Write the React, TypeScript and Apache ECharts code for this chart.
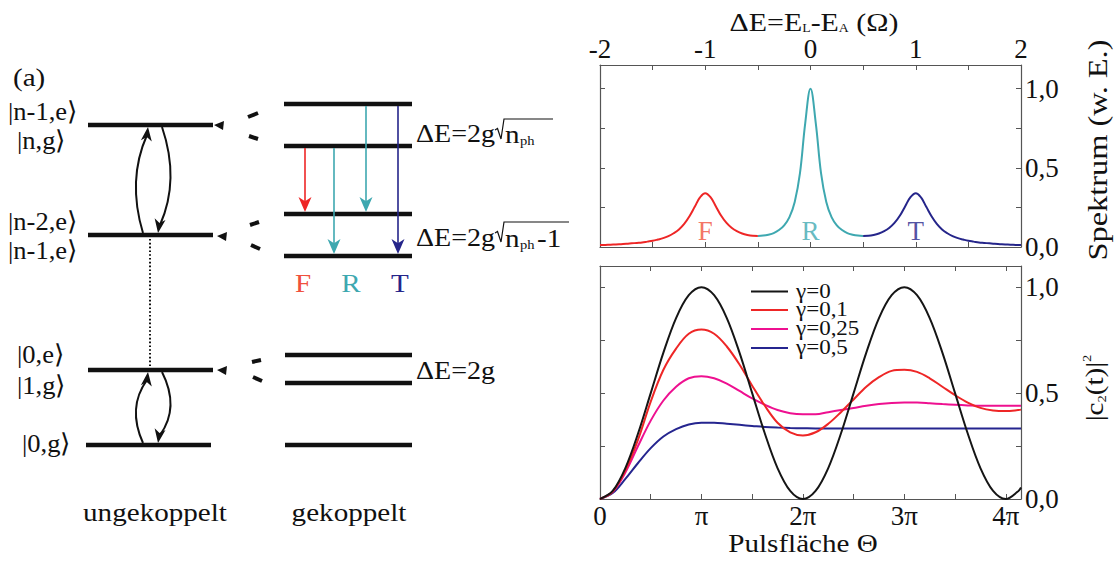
import React, { useEffect, useRef } from "react";
import * as echarts from "echarts";

const SERIF = "Liberation Serif";

// ---------- Top panel: spectrum (x from -2 to 2, step 0.05) ----------
const spectrumStart = -2;
const spectrumStep = 0.05;
const spectrumValues = [
  0.012, 0.013, 0.015, 0.016, 0.018, 0.020, 0.023, 0.026, 0.029, 0.034,
  0.039, 0.047, 0.056, 0.069, 0.087, 0.111, 0.146, 0.194, 0.254, 0.313,
  0.340, 0.315, 0.258, 0.199, 0.154, 0.122, 0.100, 0.085, 0.076, 0.071,
  0.070, 0.072, 0.078, 0.088, 0.107, 0.137, 0.189, 0.285, 0.467, 0.783,
  1.000,
  0.783, 0.467, 0.285, 0.189, 0.137, 0.107, 0.088, 0.078, 0.072, 0.070,
  0.071, 0.076, 0.085, 0.100, 0.122, 0.154, 0.199, 0.258, 0.315, 0.340,
  0.313, 0.254, 0.194, 0.146, 0.111, 0.087, 0.069, 0.056, 0.047, 0.039,
  0.034, 0.029, 0.026, 0.023, 0.020, 0.018, 0.016, 0.015, 0.013, 0.012,
];
const spectrumSegments = ["F", "R", "T"];
const spectrumBounds = [-2, -0.5, 0.5, 2];
const spectrumColors = ["#ee2626", "#3ea8b0", "#25258a"];
const spectrumLabelColors = ["#f0503c", "#3ea8b0", "#25258a"];
const spectrumLabelX = [-1, 0, 1];

// ---------- Bottom panel: |c2(t)|^2 vs pulse area (units of pi) ----------
const theta = [
  0, 0.125, 0.25, 0.375, 0.5, 0.625, 0.75, 0.875, 1, 1.125, 1.25, 1.375, 1.5,
  1.625, 1.75, 1.875, 2, 2.125, 2.25, 2.375, 2.5, 2.625, 2.75, 2.875, 3, 3.125,
  3.25, 3.375, 3.5, 3.625, 3.75, 3.875, 4, 4.125, 4.15,
];
const rabiG0 = [
  0, 0.038, 0.146, 0.309, 0.5, 0.691, 0.854, 0.962, 1, 0.962, 0.854, 0.691,
  0.5, 0.309, 0.146, 0.038, 0, 0.038, 0.146, 0.309, 0.5, 0.691, 0.854, 0.962,
  1, 0.962, 0.854, 0.691, 0.5, 0.309, 0.146, 0.038, 0, 0.038, 0.054,
];
const rabiG01 = [
  0, 0.035, 0.135, 0.28, 0.46, 0.61, 0.71, 0.78, 0.8, 0.78, 0.72, 0.635,
  0.535, 0.44, 0.36, 0.315, 0.3, 0.315, 0.355, 0.41, 0.47, 0.53, 0.575, 0.605,
  0.61, 0.6, 0.57, 0.53, 0.49, 0.455, 0.43, 0.418, 0.415, 0.42, 0.422,
];
const rabiG025 = [
  0, 0.034, 0.125, 0.25, 0.37, 0.465, 0.53, 0.57, 0.58, 0.57, 0.545, 0.51,
  0.475, 0.445, 0.42, 0.405, 0.4, 0.4, 0.41, 0.42, 0.43, 0.44, 0.448, 0.453,
  0.455, 0.455, 0.452, 0.448, 0.445, 0.442, 0.44, 0.44, 0.44, 0.44, 0.44,
];
const rabiG05 = [
  0, 0.028, 0.095, 0.17, 0.24, 0.295, 0.33, 0.352, 0.36, 0.36, 0.355, 0.35,
  0.345, 0.34, 0.337, 0.335, 0.334, 0.333, 0.333, 0.333, 0.333, 0.333, 0.333,
  0.333, 0.333, 0.333, 0.333, 0.333, 0.333, 0.333, 0.333, 0.333, 0.333, 0.333,
  0.333,
];
const rabiNames = ["γ=0", "γ=0,1", "γ=0,25", "γ=0,5"];
const rabiColors = ["#151515", "#ee2626", "#ee1090", "#25258f"];
const piTickLabels = ["0", "π", "2π", "3π", "4π"];
const yTickValues = [0, 0.5, 1];
const yTickLabels = ["0,0", "0,5", "1,0"];

// ---------- Left: level diagram ----------
const uncoupledLevels = [
  [88, 213, 125],
  [88, 213, 235],
  [88, 213, 370],
  [86, 211, 445],
];
const coupledLevels = [
  [284, 412, 104],
  [284, 412, 146],
  [284, 412, 214],
  [284, 412, 256],
  [285, 412, 355],
  [285, 412, 383],
  [285, 412, 445],
];

function fmtY(v: number) {
  const i = yTickValues.findIndex((t) => Math.abs(t - v) < 1e-6);
  return i >= 0 ? yTickLabels[i] : "";
}

function arrowHead(tx: number, ty: number, dx: number, dy: number, len: number, w: number, color: string) {
  const n = Math.hypot(dx, dy);
  const ux = dx / n, uy = dy / n;
  const px = -uy, py = ux;
  return {
    type: "polygon",
    shape: {
      points: [
        [tx, ty],
        [tx - ux * len + px * w / 2, ty - uy * len + py * w / 2],
        [tx - ux * len * 0.72, ty - uy * len * 0.72],
        [tx - ux * len - px * w / 2, ty - uy * len - py * w / 2],
      ],
    },
    style: { fill: color },
    z: 10,
  };
}

const WIDE = 1.12;

function txt(x: number, y: number, text: string, size: number, color = "#111", align = "left", extra: any = {}) {
  return {
    type: "text",
    x,
    y,
    z: 10,
    scaleX: WIDE,
    ...extra,
    style: {
      text,
      fill: color,
      fontFamily: SERIF,
      fontSize: size,
      textAlign: align,
      align,
      textVerticalAlign: "middle",
      verticalAlign: "middle",
    },
  };
}

function buildGraphics() {
  const g: any[] = [];
  const black = "#111";
  for (const [a, b, y] of uncoupledLevels) {
    g.push({ type: "line", shape: { x1: a, y1: y, x2: b, y2: y }, style: { stroke: black, lineWidth: 4.5 } });
  }
  for (const [a, b, y] of coupledLevels) {
    g.push({ type: "line", shape: { x1: a, y1: y, x2: b, y2: y }, style: { stroke: black, lineWidth: 4.5 } });
  }
  const wedges = [[214, 125], [217, 236], [217, 370]];
  for (const [x, y] of wedges) {
    g.push({ type: "polygon", shape: { points: [[x, y], [x + 10, y - 4], [x + 9, y + 5]] }, style: { fill: black } });
  }
  const dashes = [
    [248, 117, 258, 113], [249, 136, 258, 139],
    [250, 225, 259, 222], [251, 245, 260, 249],
    [252, 362, 261, 360], [253, 377, 262, 381],
  ];
  for (const [x1, y1, x2, y2] of dashes) {
    g.push({ type: "line", shape: { x1, y1, x2, y2 }, style: { stroke: black, lineWidth: 4 } });
  }
  g.push({ type: "line", shape: { x1: 150, y1: 239, x2: 150, y2: 368 }, style: { stroke: black, lineWidth: 2, lineDash: [1.6, 2.2] } });
  const pairs = [
    { top: 125, bot: 235 },
    { top: 370, bot: 445 },
  ];
  for (const { top, bot } of pairs) {
    const mid = (top + bot) / 2;
    g.push({ type: "bezierCurve", shape: { x1: 143, y1: bot - 2, cpx1: 127, cpy1: mid, x2: 147, y2: top + 10 }, style: { stroke: black, lineWidth: 2, fill: null } });
    g.push(arrowHead(148, top + 2, 0.12, -1, 14, 11, black));
    g.push({ type: "bezierCurve", shape: { x1: 162, y1: top + 2, cpx1: 180, cpy1: mid, x2: 160, y2: bot - 10 }, style: { stroke: black, lineWidth: 2, fill: null } });
    g.push(arrowHead(158, bot - 2, -0.15, 1, 14, 11, black));
  }
  const trans = [
    { x: 305, y1: 148, y2: 212, c: spectrumColors[0] },
    { x: 334, y1: 148, y2: 254, c: spectrumColors[1] },
    { x: 366, y1: 106, y2: 212, c: spectrumColors[1] },
    { x: 398, y1: 106, y2: 254, c: spectrumColors[2] },
  ];
  for (const t of trans) {
    g.push({ type: "line", shape: { x1: t.x, y1: t.y1, x2: t.x, y2: t.y2 - 8 }, style: { stroke: t.c, lineWidth: 1.6 } });
    g.push(arrowHead(t.x, t.y2, 0, 1, 15, 13, t.c));
  }
  const frtX = [303, 351, 400];
  spectrumSegments.forEach((s, i) => g.push(txt(frtX[i], 283, s, 26, spectrumLabelColors[i], "center")));

  const ket = { scaleX: 1.02 };
  g.push(txt(13, 77, "(a)", 26));
  g.push(txt(8, 112, "|n-1,e⟩", 26, "#111", "left", ket));
  g.push(txt(17, 141, "|n,g⟩", 26, "#111", "left", ket));
  g.push(txt(8, 222, "|n-2,e⟩", 26, "#111", "left", ket));
  g.push(txt(8, 251, "|n-1,e⟩", 26, "#111", "left", ket));
  g.push(txt(17, 355, "|0,e⟩", 26, "#111", "left", ket));
  g.push(txt(17, 386, "|1,g⟩", 26, "#111", "left", ket));
  g.push(txt(22, 444, "|0,g⟩", 26, "#111", "left", ket));
  g.push(txt(155, 512, "ungekoppelt", 26, "#111", "center"));
  g.push(txt(349, 512, "gekoppelt", 26, "#111", "center"));

  const rad = (y: number, xEnd: number) => ({
    type: "polyline",
    shape: { points: [[495, y + 11], [497.5, y + 9.5], [501, y + 20], [504, y], [xEnd, y]] },
    style: { stroke: black, lineWidth: 1.2, fill: null },
  });
  g.push(txt(416, 133, "ΔE=2g", 26, "#111", "left", { scaleX: 1.08 }));
  g.push(rad(119, 553));
  g.push(txt(505, 134, "n", 26));
  g.push(txt(520, 141, "ph", 13));
  g.push(txt(416, 237, "ΔE=2g", 26, "#111", "left", { scaleX: 1.08 }));
  g.push(rad(222, 569));
  g.push(txt(505, 238, "n", 26));
  g.push(txt(520, 245, "ph", 13));
  g.push(txt(537, 238, "-1", 26));
  g.push(txt(416, 370, "ΔE=2g", 26, "#111", "left", { scaleX: 1.08 }));

  g.push({
    type: "text", x: 814, y: 22, z: 10, scaleX: 1.15,
    style: {
      text: "{m|ΔE=E}{s|L}{m|-E}{s|A}{m| (Ω)}",
      textAlign: "center", align: "center", textVerticalAlign: "middle", verticalAlign: "middle",
      rich: {
        m: { fontFamily: SERIF, fontSize: 26, lineHeight: 24, fill: "#111", color: "#111" },
        s: { fontFamily: SERIF, fontSize: 12, lineHeight: 10, verticalAlign: "bottom", fill: "#111", color: "#111" },
      },
    },
  });
  g.push(txt(1097, 150, "Spektrum (w. E.)", 27, "#111", "center", { rotation: Math.PI / 2, scaleX: 1.2 }));
  g.push({
    type: "text", x: 1094, y: 388, z: 10, rotation: Math.PI / 2, scaleX: WIDE,
    style: {
      text: "{m||c}{s|2}{m|(t)|}{p|2}",
      textAlign: "center", align: "center", textVerticalAlign: "middle", verticalAlign: "middle",
      rich: {
        m: { fontFamily: SERIF, fontSize: 26, lineHeight: 28, fill: "#111", color: "#111" },
        s: { fontFamily: SERIF, fontSize: 13, lineHeight: 12, verticalAlign: "bottom", fill: "#111", color: "#111" },
        p: { fontFamily: SERIF, fontSize: 13, lineHeight: 12, verticalAlign: "top", fill: "#111", color: "#111" },
      },
    },
  });
  g.push(txt(803, 543, "Pulsfläche Θ", 26, "#111", "center"));

  // legend of the lower panel
  const legendY = [291.5, 310, 329, 348];
  rabiNames.forEach((name, k) => {
    g.push({ type: "line", shape: { x1: 751, y1: legendY[k], x2: 788, y2: legendY[k] }, style: { stroke: rabiColors[k], lineWidth: 2 } });
    g.push(txt(796, legendY[k], name, 20, "#111", "left", { scaleX: 1.15 }));
  });
  return g;
}

function boxX(grid: number, pos: "top" | "bottom", min: number, max: number, fmt: ((v: number) => string) | null) {
  return {
    type: "value",
    gridIndex: grid,
    position: pos,
    min,
    max,
    interval: 0.5,
    axisLine: { show: true, onZero: false, lineStyle: { color: "#555", width: 1.2 } },
    axisTick: { show: true, inside: true, length: 5, lineStyle: { color: "#555", width: 1 } },
    splitLine: { show: false },
    axisLabel: fmt
      ? { show: true, formatter: fmt, fontFamily: SERIF, fontSize: 27, color: "#111", margin: 3 }
      : { show: false },
  };
}

function boxY(grid: number, pos: "left" | "right", max: number, labels: boolean) {
  return {
    type: "value",
    gridIndex: grid,
    position: pos,
    min: 0,
    max,
    interval: 0.25,
    axisLine: { show: true, onZero: false, lineStyle: { color: "#555", width: 1.2 } },
    axisTick: { show: true, inside: true, length: 5, lineStyle: { color: "#555", width: 1 } },
    splitLine: { show: false },
    axisLabel: labels
      ? { show: true, formatter: fmtY, fontFamily: SERIF, fontSize: 27, color: "#111", margin: 4 }
      : { show: false },
  };
}

export default function App() {
  const ref = useRef<HTMLDivElement>(null);
  useEffect(() => {
    if (!ref.current) return;
    const chart = echarts.init(ref.current, null, { renderer: "svg" });

    const specPoints = spectrumValues.map((v, i) => [
      Math.round((spectrumStart + i * spectrumStep) * 100) / 100,
      v,
    ]);
    const specSeries = spectrumSegments.map((name, k) => ({
      type: "line",
      name,
      xAxisIndex: 0,
      yAxisIndex: 0,
      showSymbol: false,
      symbol: "none",
      smooth: 0.4,
      lineStyle: { color: spectrumColors[k], width: 2 },
      data: specPoints.filter((p) => p[0] >= spectrumBounds[k] - 1e-9 && p[0] <= spectrumBounds[k + 1] + 1e-9),
      silent: true,
    }));
    const labelSeries = {
      type: "scatter",
      xAxisIndex: 0,
      yAxisIndex: 0,
      symbolSize: 0,
      silent: true,
      data: spectrumLabelX.map((x, i) => ({
        value: [x, 0.1],
        label: {
          show: true,
          formatter: spectrumSegments[i],
          position: "inside",
          fontFamily: SERIF,
          fontSize: 27,
          color: spectrumLabelColors[i],
        },
      })),
    };

    const rabiSets = [rabiG0, rabiG01, rabiG025, rabiG05];
    const rabiSeries = rabiSets.map((vals, k) => ({
      type: "line",
      name: rabiNames[k],
      xAxisIndex: 2,
      yAxisIndex: 2,
      showSymbol: false,
      symbol: "none",
      smooth: 0.35,
      color: rabiColors[k],
      lineStyle: { color: rabiColors[k], width: 2 },
      data: theta.map((t, i) => [t, vals[i]]),
      silent: true,
      z: 10 - k,
    }));

    chart.setOption({
      animation: false,
      backgroundColor: "#ffffff",
      textStyle: { fontFamily: SERIF },
      grid: [
        { left: 600, top: 65, width: 421, height: 182 },
        { left: 600, top: 266, width: 421, height: 233 },
      ],
      xAxis: [
        boxX(0, "top", -2, 2, (v: number) => (Math.abs(v - Math.round(v)) < 1e-6 ? String(Math.round(v)) : "")),
        boxX(0, "bottom", -2, 2, null),
        boxX(1, "bottom", 0, 4.15, (v: number) => {
          const r = Math.round(v);
          return Math.abs(v - r) < 1e-6 && r >= 0 && r < piTickLabels.length ? piTickLabels[r] : "";
        }),
        boxX(1, "top", 0, 4.15, null),
      ],
      yAxis: [
        boxY(0, "right", 1.15, true),
        boxY(0, "left", 1.15, false),
        boxY(1, "right", 1.1, true),
        boxY(1, "left", 1.1, false),
      ],
      series: [...specSeries, labelSeries, ...rabiSeries],
      graphic: buildGraphics(),
    });
    return () => chart.dispose();
  }, []);
  return (
    <div
      ref={ref}
      style={{ position: "fixed", left: 0, top: 0, width: 1117, height: 563, background: "#fff" }}
    />
  );
}
